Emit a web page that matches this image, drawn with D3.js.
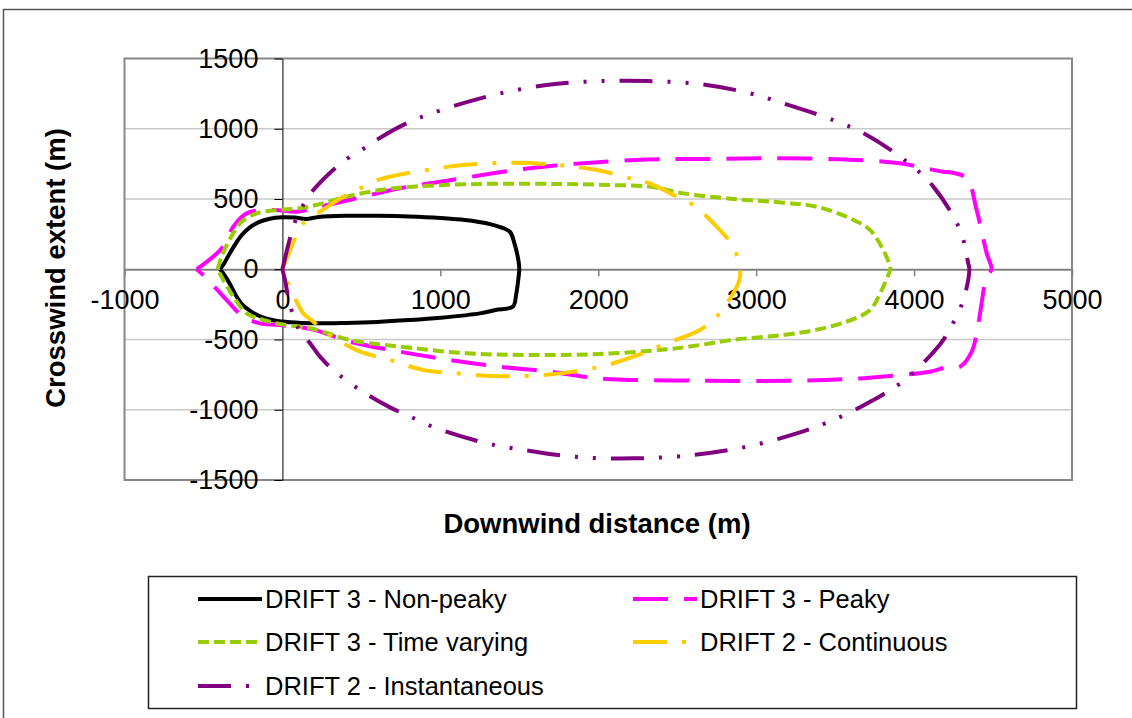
<!DOCTYPE html>
<html>
<head>
<meta charset="utf-8">
<script src="https://cdn.jsdelivr.net/npm/d3@7"></script>
<style>
  body { margin: 0; background: #fff; }
  svg { display: block; font-family: "Liberation Sans", Arial, sans-serif; }
</style>
</head>
<body>
<script>
const xTicks = [-1000, 0, 1000, 2000, 3000, 4000, 5000]
const yTicks = [-1500, -1000, -500, 0, 500, 1000, 1500]

// each outline goes round the cloud: upper half left to right, lower half back
const nonPeaky = [
  [-395, 0], [-370, 40], [-340, 100], [-300, 175], [-260, 240], [-210, 295], [-150, 335],
  [-80, 360], [0, 370], [80, 368], [150, 358], [230, 372], [400, 380], [600, 380], [800, 376],
  [1000, 365], [1200, 345], [1350, 310], [1440, 267], [1470, 180], [1495, 60], [1500, 0],
  [1495, -60], [1480, -180], [1460, -265], [1350, -290], [1250, -314], [1000, -345],
  [800, -362], [600, -375], [400, -382], [200, -385], [50, -378], [-50, -365], [-130, -340],
  [-200, -300], [-255, -250], [-295, -185], [-330, -110], [-365, -45], [-395, 0]
]

const peaky = [
  [-543, 0], [-384, 149], [-311, 303], [-226, 398], [-58, 422], [91, 410], [238, 445],
  [470, 505], [745, 576], [1040, 630], [1610, 725], [2243, 778], [2729, 785], [3108, 790],
  [3594, 780], [3911, 754], [4185, 694], [4227, 690], [4333, 647], [4396, 422], [4460, 113],
  [4490, 0], [4460, -53], [4407, -385], [4365, -587], [4291, -694], [4206, -698], [4101, -729],
  [3911, -753], [3658, -777], [3277, -793], [2644, -793], [2011, -777], [1694, -729],
  [1378, -694], [1061, -646], [745, -587], [428, -516], [196, -430], [-15, -397], [-142, -385],
  [-247, -338], [-353, -219], [-490, -53], [-543, 0]
]

const timeVarying = [
  [-410, 0], [-385, 90], [-330, 220], [-258, 338], [-163, 398], [-36, 422], [111, 434],
  [238, 464], [407, 517], [618, 564], [829, 588], [1250, 607], [1750, 607], [2050, 600],
  [2327, 588], [2538, 540], [2855, 500], [3172, 474], [3383, 445], [3594, 363], [3721, 279],
  [3805, 137], [3848, 18], [3848, -5], [3795, -148], [3721, -290], [3573, -373], [3383, -430],
  [3172, -468], [2855, -502], [2645, -539], [2433, -570], [2011, -603], [1589, -610],
  [1167, -598], [745, -551], [428, -504], [196, -425], [-15, -390], [-121, -361], [-226, -314],
  [-311, -195], [-374, -77], [-410, 0]
]

const continuous = [
  [0, 0], [27, 76], [80, 220], [132, 327], [238, 410], [386, 516], [491, 576], [618, 640],
  [914, 706], [1146, 742], [1462, 758], [1673, 749], [1990, 706], [2201, 647], [2327, 611],
  [2497, 516], [2602, 457], [2750, 303], [2824, 208], [2877, 101], [2900, 0], [2890, -90],
  [2855, -171], [2750, -338], [2644, -432], [2433, -527], [2222, -622], [2011, -694],
  [1758, -741], [1547, -760], [1336, -760], [1104, -741], [892, -717], [681, -646],
  [491, -587], [386, -527], [280, -456], [196, -373], [132, -314], [80, -207], [27, -76], [0, 0]
]

const instantaneous = [
  [0, 0], [48, 220], [80, 338], [132, 457], [196, 564], [344, 730], [428, 801], [534, 872],
  [618, 935], [808, 1050], [1019, 1138], [1336, 1240], [1673, 1311], [1990, 1338],
  [2307, 1340], [2644, 1318], [2961, 1252], [3172, 1181], [3488, 1062], [3700, 956],
  [3953, 766], [4122, 588], [4291, 279], [4343, 42], [4350, 0], [4312, -219], [4227, -425],
  [4164, -535], [3953, -777], [3742, -931], [3488, -1073], [3257, -1168], [2940, -1263],
  [2602, -1322], [2222, -1346], [1842, -1334], [1505, -1282], [1294, -1239], [977, -1132],
  [787, -1037], [681, -983], [491, -859], [322, -717], [238, -622], [175, -527], [101, -420],
  [48, -254], [16, -76], [0, 0]
]

const seriesNames = [
  "DRIFT 3 - Non-peaky", "DRIFT 3 - Peaky", "DRIFT 3 - Time varying",
  "DRIFT 2 - Continuous", "DRIFT 2 - Instantaneous"
]

const series = [
  { name: seriesNames[0], points: nonPeaky, color: "#000000", dash: null },
  { name: seriesNames[1], points: peaky, color: "#FF00FF", dash: "35,16" },
  { name: seriesNames[2], points: timeVarying, color: "#99CC00", dash: "11,5" },
  { name: seriesNames[3], points: continuous, color: "#FFCC00", dash: "34,15,4,15" },
  { name: seriesNames[4], points: instantaneous, color: "#800080", dash: "33,15,3,15,3,15" }
]

const width = 1132
const height = 718
const plot = { left: 124.5, right: 1072, top: 58.5, bottom: 480 }
const tickFont = "27px"
const titleFont = "27.5px"

const svg = d3.select("body").append("svg")
  .attr("width", width)
  .attr("height", height)

// chart area border runs off the page on the right and bottom
svg.append("rect")
  .attr("x", 3.5).attr("y", 9.5)
  .attr("width", 1200).attr("height", 800)
  .attr("fill", "#fff")
  .attr("stroke", "#555").attr("stroke-width", 1.5)

const x = d3.scaleLinear().domain([-1000, 5000]).range([plot.left, plot.right])
const y = d3.scaleLinear().domain([-1500, 1500]).range([plot.bottom, plot.top])

// gridlines
svg.append("g")
  .selectAll("line")
  .data(yTicks.filter((d) => d !== 0 && Math.abs(d) !== 1500))
  .enter()
  .append("line")
  .attr("x1", plot.left).attr("x2", plot.right)
  .attr("y1", (d) => y(d)).attr("y2", (d) => y(d))
  .attr("stroke", "#c8c8c8").attr("stroke-width", 1.5)

// plot border
svg.append("rect")
  .attr("x", plot.left).attr("y", plot.top)
  .attr("width", plot.right - plot.left).attr("height", plot.bottom - plot.top)
  .attr("fill", "none")
  .attr("stroke", "#888").attr("stroke-width", 2)

// x axis crosses at y = 0
const xAxis = svg.append("g")
  .attr("transform", `translate(0,${y(0)})`)
  .call(d3.axisBottom(x).tickValues(xTicks).tickFormat((d) => String(d))
    .tickSize(7).tickSizeOuter(0).tickPadding(14))
xAxis.select(".domain").attr("stroke", "#808080").attr("stroke-width", 2)
xAxis.selectAll(".tick line").attr("stroke", "#808080").attr("stroke-width", 1.5)
xAxis.selectAll("text")
  .attr("font-size", tickFont).attr("fill", "#000")
  .style("font-family", "\"Liberation Sans\", Arial, sans-serif")

// y axis crosses at x = 0
const yAxis = svg.append("g")
  .attr("transform", `translate(${x(0)},0)`)
  .call(d3.axisLeft(y).tickValues(yTicks).tickFormat((d) => String(d))
    .tickSize(8).tickSizeOuter(0).tickPadding(16))
yAxis.select(".domain").attr("stroke", "#000").attr("stroke-width", 1)
yAxis.selectAll(".tick line").attr("stroke", "#000").attr("stroke-width", 1)
yAxis.selectAll("text")
  .attr("font-size", tickFont).attr("fill", "#000")
  .style("font-family", "\"Liberation Sans\", Arial, sans-serif")

// outlines
const line = d3.line()
  .x((d) => x(d[0]))
  .y((d) => y(d[1]))
  .curve(d3.curveCatmullRom.alpha(0.5))

svg.append("g")
  .selectAll("path")
  .data(series)
  .enter()
  .append("path")
  .attr("d", (d) => line(d.points))
  .attr("fill", "none")
  .attr("stroke", (d) => d.color)
  .attr("stroke-width", 4)
  .attr("stroke-dasharray", (d) => d.dash)
  .attr("stroke-linejoin", "round")

// axis titles
svg.append("text")
  .attr("x", 597).attr("y", 533)
  .attr("text-anchor", "middle")
  .attr("font-size", titleFont).attr("font-weight", "bold")
  .text("Downwind distance (m)")

svg.append("text")
  .attr("transform", "translate(65,268) rotate(-90)")
  .attr("text-anchor", "middle")
  .attr("font-size", titleFont).attr("font-weight", "bold")
  .text("Crosswind extent (m)")

// legend
svg.append("rect")
  .attr("x", 148.5).attr("y", 576.5)
  .attr("width", 928).attr("height", 132)
  .attr("fill", "#fff")
  .attr("stroke", "#222").attr("stroke-width", 1.5)

const legendPos = [
  { x: 198, y: 599 }, { x: 633, y: 599 },
  { x: 198, y: 642 }, { x: 633, y: 642 },
  { x: 198, y: 686 }
]

const legendItems = svg.append("g")
  .selectAll("g")
  .data(series)
  .enter()
  .append("g")
  .attr("transform", (d, i) => `translate(${legendPos[i].x},${legendPos[i].y})`)

legendItems.append("line")
  .attr("x1", 0).attr("x2", 64)
  .attr("stroke", (d) => d.color)
  .attr("stroke-width", 4)
  .attr("stroke-dasharray", (d) => d.dash)

legendItems.append("text")
  .attr("x", 67).attr("y", 9)
  .attr("font-size", "25.5px")
  .text((d) => d.name)
</script>
</body>
</html>
